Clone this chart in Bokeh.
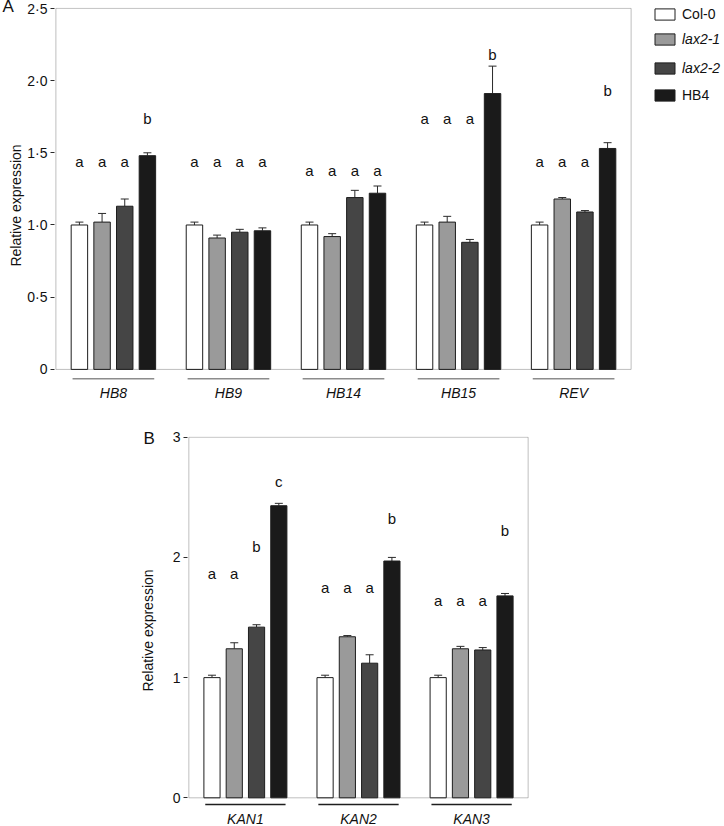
from bokeh.plotting import figure
from bokeh.models import (ColumnDataSource, Whisker, TeeHead, Legend, LegendItem, Label,
                          FixedTicker, CustomJSTickFormatter, BoxAnnotation, Range1d)
from bokeh.layouts import row
from bokeh.embed import file_html
from bokeh.resources import INLINE
from bokeh.core.properties import value

# ---------------- data ----------------
lines = ["Col-0", "lax2-1", "lax2-2", "HB4"]
line_italic = [False, True, True, False]
colors = ["#ffffff", "#9a9a9a", "#454545", "#1a1a1a"]

genes_a = ["HB8", "HB9", "HB14", "HB15", "REV"]
mean_a = {
    "Col-0":  [1.00, 1.00, 1.00, 1.00, 1.00],
    "lax2-1": [1.02, 0.91, 0.92, 1.02, 1.18],
    "lax2-2": [1.13, 0.95, 1.19, 0.88, 1.09],
    "HB4":    [1.48, 0.96, 1.22, 1.91, 1.53],
}
err_a = {
    "Col-0":  [0.02, 0.02, 0.02, 0.02, 0.02],
    "lax2-1": [0.06, 0.02, 0.02, 0.04, 0.01],
    "lax2-2": [0.05, 0.02, 0.05, 0.02, 0.01],
    "HB4":    [0.02, 0.02, 0.05, 0.19, 0.04],
}
letters_a = [["a", "a", "a", "b"], ["a", "a", "a", "a"], ["a", "a", "a", "a"],
             ["a", "a", "a", "b"], ["a", "a", "a", "b"]]
letter_y_a = [[1.44, 1.44, 1.44, 1.74], [1.44, 1.44, 1.44, 1.44], [1.38, 1.38, 1.38, 1.38],
              [1.74, 1.74, 1.74, 2.18], [1.44, 1.44, 1.44, 1.93]]
ticks_a = [0, 0.5, 1.0, 1.5, 2.0, 2.5]

genes_b = ["KAN1", "KAN2", "KAN3"]
mean_b = {
    "Col-0":  [1.00, 1.00, 1.00],
    "lax2-1": [1.24, 1.34, 1.24],
    "lax2-2": [1.42, 1.12, 1.23],
    "HB4":    [2.43, 1.97, 1.68],
}
err_b = {
    "Col-0":  [0.02, 0.02, 0.02],
    "lax2-1": [0.05, 0.01, 0.02],
    "lax2-2": [0.02, 0.07, 0.02],
    "HB4":    [0.02, 0.03, 0.02],
}
letters_b = [["a", "a", "b", "c"], ["a", "a", "a", "b"], ["a", "a", "a", "b"]]
letter_y_b = [[1.87, 1.87, 2.09, 2.63], [1.75, 1.75, 1.75, 2.32], [1.64, 1.64, 1.64, 2.22]]
ticks_b = [0, 1, 2, 3]

FONT = "Liberation Sans"
DARK = "#2a2a2a"
BAR_W = 0.143


def make_panel(genes, means, errs, letters, letter_y, ticks, ytop, ybot, fmt_code,
               width, height, mb_left, mb_right, mb_top, uline_color, uline_y, label_y,
               panel_letter, panel_xy, ylabel_standoff):
    n = len(genes)
    p = figure(width=width, height=height, output_backend="svg", toolbar_location=None,
               x_range=Range1d(-0.012, n + 0.012), y_range=Range1d(ybot, ytop + 0.006),
               min_border_left=mb_left, min_border_right=mb_right,
               min_border_top=mb_top, min_border_bottom=0)
    p.xaxis.visible = False
    p.xgrid.visible = False
    p.ygrid.visible = False
    p.outline_line_color = None

    sources = []
    for j, ln in enumerate(lines):
        xs = [i + 0.5 + (j - 1.5) * 0.197 for i in range(n)]
        src = ColumnDataSource(dict(
            x=xs, top=means[ln],
            upper=[m + e for m, e in zip(means[ln], errs[ln])],
            lower=means[ln]))
        sources.append(src)
        p.vbar(x="x", top="top", bottom=0, width=BAR_W, source=src,
               fill_color=colors[j], line_color="#1e1e1e", line_width=1)
        w = Whisker(base="x", upper="upper", lower="lower", source=src, dimension="height",
                    line_color=DARK, line_width=1,
                    upper_head=TeeHead(size=8, line_color=DARK, line_width=1),
                    lower_head=None)
        p.add_layout(w)

    # significance letters
    lx, ly, lt = [], [], []
    for i in range(n):
        for j in range(len(lines)):
            lx.append(i + 0.5 + (j - 1.5) * 0.197)
            ly.append(letter_y[i][j])
            lt.append(letters[i][j])
    p.text(x=lx, y=ly, text=lt, text_font=value(FONT), text_font_size="15px",
           text_align="center", text_baseline="middle", text_color="#111111")

    # frame box
    p.add_layout(BoxAnnotation(left=0, right=n, bottom=0, top=ytop, fill_alpha=0,
                               fill_color=None, line_color=DARK, line_width=1))

    # group underlines + gene labels
    gx = [i + 0.5 for i in range(n)]
    p.segment(x0=[g - 0.355 for g in gx], x1=[g + 0.355 for g in gx],
              y0=[uline_y] * n, y1=[uline_y] * n, line_color=uline_color, line_width=1.5)
    p.text(x=gx, y=[label_y] * n, text=genes, text_font=value(FONT),
           text_font_style="italic", text_font_size="14px",
           text_align="center", text_baseline="middle", text_color="#111111")

    ax = p.yaxis[0]
    ax.ticker = FixedTicker(ticks=ticks)
    ax.formatter = CustomJSTickFormatter(code=fmt_code)
    ax.axis_line_color = None
    ax.major_tick_out = 4
    ax.major_tick_in = 0
    ax.major_tick_line_color = DARK
    ax.minor_tick_line_color = None
    ax.major_label_standoff = 3
    ax.major_label_text_font = FONT
    ax.major_label_text_font_size = "14px"
    ax.major_label_text_color = "#111111"
    ax.axis_label = "Relative expression"
    ax.axis_label_text_font = FONT
    ax.axis_label_text_font_size = "14px"
    ax.axis_label_text_font_style = "normal"
    ax.axis_label_text_color = "#111111"
    ax.axis_label_standoff = ylabel_standoff

    # panel letter, held by a side panel so that it is not clipped to the frame
    p.add_layout(Label(x=panel_xy[0], y=panel_xy[1], x_units="data", y_units="data",
                       text=panel_letter, text_align="left", text_baseline="middle",
                       text_font=FONT, text_font_size="17px", text_color="#111111"), "right")
    return p, sources


pA, sA = make_panel(genes_a, mean_a, err_a, letters_a, letter_y_a, ticks_a, 2.5, -0.236,
                    "return tick === 0 ? '0' : tick.toFixed(1).replace('.', '\u00b7');",
                    650, 403, 54, 18, 7, "#8c8c8c", -0.065, -0.165, "A", (-0.464, 2.51), 0)

pB, sB = make_panel(genes_b, mean_b, err_b, letters_b, letter_y_b, ticks_b, 3.0, -0.222,
                    "return tick.toFixed(0);",
                    724, 421, 187, 195, 33, "#1e1e1e", -0.056, -0.175, "B", (-0.401, 2.99), 14)

# legend figure (legends split so that the italic genotype names can be styled)
pL = figure(width=74, height=403, output_backend="svg", toolbar_location=None,
            x_range=Range1d(0, 1), y_range=Range1d(0, 1),
            min_border_left=0, min_border_right=0, min_border_top=7, min_border_bottom=0)
pL.axis.visible = False
pL.grid.visible = False
pL.outline_line_color = None
leg_r = [pL.vbar(x="x", top="top", width=BAR_W, source=sA[k], visible=False,
                 fill_color=c, line_color="#1e1e1e", line_width=1)
         for k, c in enumerate(colors)]
legend_specs = [([0], 381), ([1, 2], 327), ([3], 300)]  # bottom of each block, px above frame bottom
for idxs, vy in legend_specs:
    items = [LegendItem(label=value(lines[k]), renderers=[leg_r[k]]) for k in idxs]
    leg = Legend(items=items, location=(2, vy), glyph_width=25, glyph_height=14,
                 label_height=14, spacing=13, padding=0, margin=0, label_standoff=5,
                 border_line_color=None, background_fill_alpha=0,
                 inactive_fill_alpha=0,
                 label_text_font=FONT, label_text_font_size="14px",
                 label_text_color="#111111",
                 label_text_font_style="italic" if line_italic[idxs[0]] else "normal")
    pL.add_layout(leg, "center")

open("out.html", "w").write(file_html([row(pA, pL), pB], INLINE))
